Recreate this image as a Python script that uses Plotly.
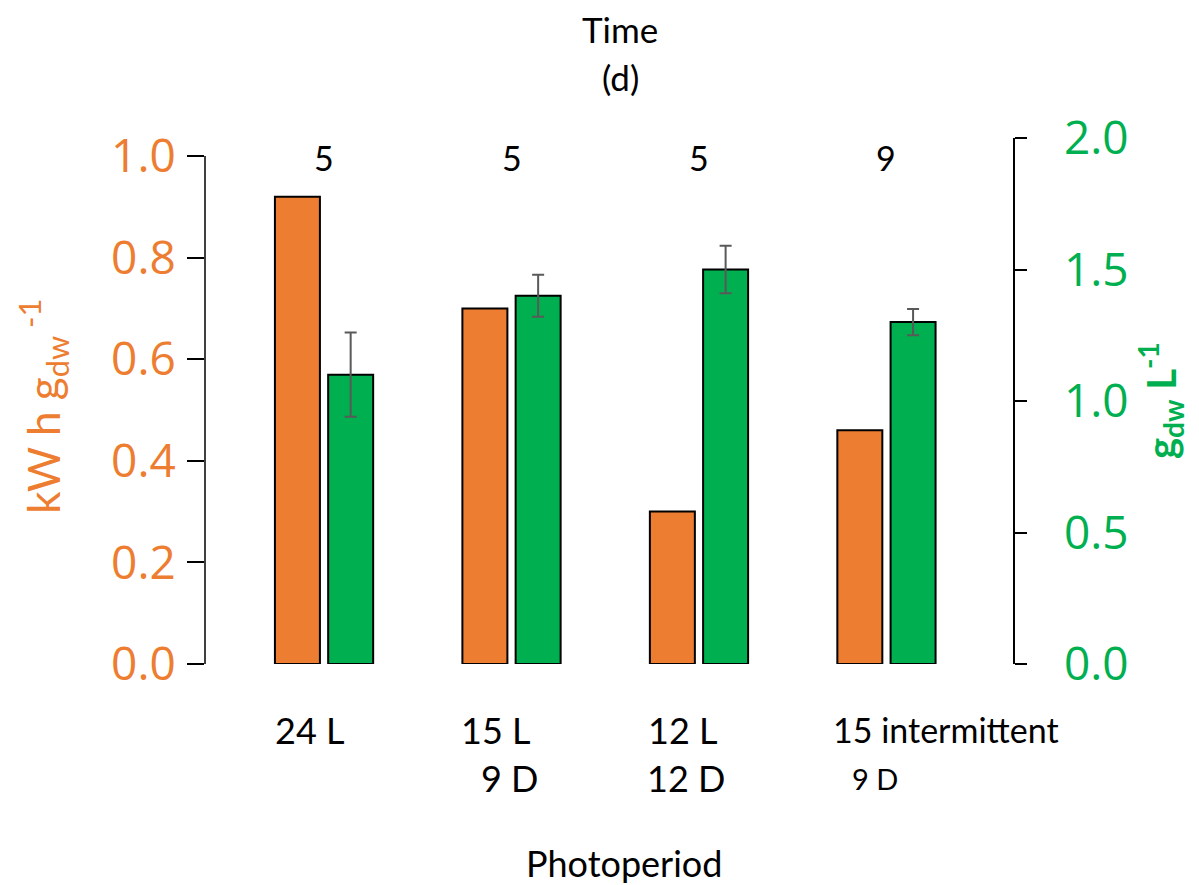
import plotly.graph_objects as go

# ---- data ----
categories = ["24 L", "15 L / 9 D", "12 L / 12 D", "15 intermittent / 9 D"]
label_line1 = ["24 L", "15 L", "12 L", "15 intermittent"]
label_line2 = ["", "9 D", "12 D", "9 D"]
days = [5, 5, 5, 9]
energy = [0.92, 0.70, 0.30, 0.46]          # kW h g_dw^-1 (left axis)
biomass = [1.10, 1.40, 1.50, 1.30]         # g_dw L^-1 (right axis)
biomass_err = [0.16, 0.08, 0.09, 0.05]

ORANGE = "#ED7D31"
GREEN = "#00B050"
FONT = "Lato, Open Sans, sans-serif"
TICKFONT = "Open Sans, sans-serif"
NARROW = "Lato, sans-serif"

xs = list(range(len(categories)))

fig = go.Figure()
fig.add_trace(go.Bar(
    x=xs, y=energy, width=0.24, offset=-0.262,
    marker=dict(color=ORANGE, line=dict(color="black", width=2)),
    yaxis="y", name="Energy", showlegend=False,
))
fig.add_trace(go.Bar(
    x=xs, y=biomass, width=0.24, offset=0.022,
    marker=dict(color=GREEN, line=dict(color="black", width=2)),
    error_y=dict(type="data", array=biomass_err, color="#595959", thickness=2, width=6),
    yaxis="y2", name="Biomass", showlegend=False,
))

fig.update_layout(
    width=1199, height=885,
    margin=dict(l=197, r=194, t=130, b=229),
    plot_bgcolor="white", paper_bgcolor="white",
    barmode="overlay",
    font=dict(family=FONT, color="black"),
    xaxis=dict(range=[-0.635, 3.675], showticklabels=False, showline=False,
               showgrid=False, zeroline=False, ticks=""),
    yaxis=dict(range=[0, 1.0354], tickvals=[0, 0.2, 0.4, 0.6, 0.8, 1.0],
               ticktext=["0.0", "0.2", "0.4", "0.6", "0.8", "1.0"],
               tickfont=dict(size=46, color=ORANGE, family=TICKFONT),
               ticks="outside", ticklen=17, tickwidth=1.5, tickcolor="black",
               showline=False, showgrid=False, zeroline=False,
               ticklabelstandoff=2),
    yaxis2=dict(range=[0, 2.0], overlaying="y", side="right",
                tickvals=[0, 0.5, 1.0, 1.5, 2.0],
                ticktext=["0.0", "0.5", "1.0", "1.5", "2.0"],
                tickfont=dict(size=46, color=GREEN, family=TICKFONT),
                ticks="outside", ticklen=12, tickwidth=1.5, tickcolor="black",
                showline=True, linecolor="black", linewidth=1.5,
                showgrid=False, zeroline=False, ticklabelstandoff=28),
)

# left axis line only up to 1.0
fig.add_shape(type="line", xref="paper", yref="y", x0=0, x1=0, y0=0, y1=1.0,
              line=dict(color="black", width=1.5))


def note(x, y, text, size, xref="paper", color="black", family=FONT, angle=0):
    fig.add_annotation(x=x, y=y, xref=xref, yref="paper", text=text, showarrow=False,
                       xanchor="center", yanchor="middle", textangle=angle,
                       font=dict(size=size, color=color, family=family))


# day numbers above groups
for x, d in zip(xs, days):
    note(x, 0.962, str(d), 34, xref="x")

# top title
note(0.514, 1.208, "Time", 35)
note(0.514, 1.116, "(d)", 35)

# category labels (two lines, hand-placed like the original)
l1_dx = [-0.08, -0.083, -0.09, 0.32]
l2_dx = [0, -0.01, -0.07, -0.06]
l1_size = [36, 36, 36, 34]
l2_size = [36, 36, 36, 29]
for i, x in enumerate(xs):
    note(x + l1_dx[i], -0.125, label_line1[i], l1_size[i], xref="x", family=NARROW)
    if label_line2[i]:
        note(x + l2_dx[i], -0.217, label_line2[i], l2_size[i], xref="x", family=NARROW)

note(0.519, -0.378, "Photoperiod", 36, family=NARROW)

# axis titles
note(-0.2, 0.49, "kW h g<sub>dw</sub><sup> -1</sup>", 44, color=ORANGE, angle=-90)
note(1.182, 0.50, "<b>g<sub>dw</sub> L<sup>-1</sup></b>", 40, color=GREEN, angle=-90)

fig.write_html("out.html")
